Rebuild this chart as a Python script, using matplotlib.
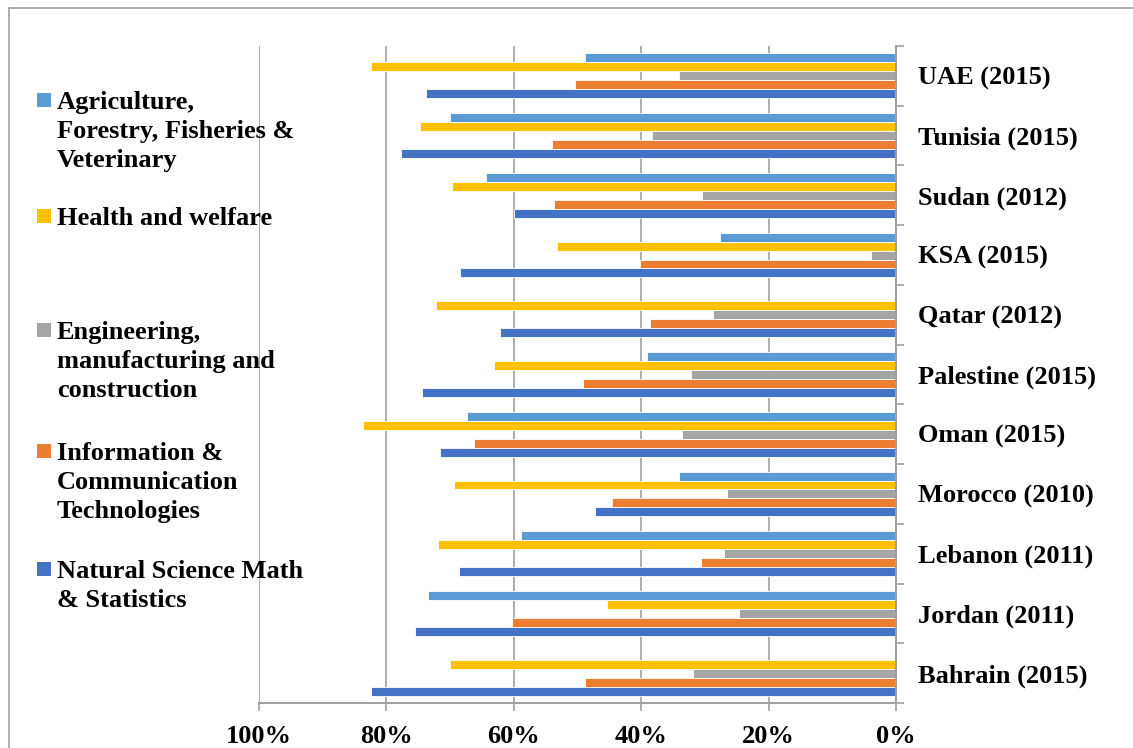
import matplotlib
matplotlib.use('Agg')
from matplotlib import pyplot as plt
from matplotlib.patches import Rectangle
from matplotlib.lines import Line2D
import numpy as np

# categories, bottom to top
countries = ['Bahrain (2015)', 'Jordan (2011)', 'Lebanon (2011)', 'Morocco (2010)',
             'Oman (2015)', 'Palestine (2015)', 'Qatar (2012)', 'KSA (2015)',
             'Sudan (2012)', 'Tunisia (2015)', 'UAE (2015)']

# percent values per field, same order as countries
natural_science = [82.4, 75.5, 68.6, 47.3, 71.6, 74.4, 62.2, 68.4, 60.0, 77.7, 73.8]
ict = [48.8, 60.3, 30.6, 44.6, 66.2, 49.1, 38.6, 40.2, 53.7, 54.0, 50.4]
engineering = [31.9, 24.6, 27.0, 26.5, 33.6, 32.2, 28.7, 3.9, 30.5, 38.3, 34.1]
health = [70.0, 45.4, 71.9, 69.4, 83.7, 63.1, 72.2, 53.2, 69.7, 74.7, 82.4]
agriculture = [0, 73.5, 58.9, 34.1, 67.3, 39.1, 0, 27.6, 64.4, 70.0, 48.8]

x_ticks = [100, 80, 60, 40, 20, 0]

# drawn bottom -> top inside each group
series = [natural_science, ict, engineering, health, agriculture]
colors = ['#4472C4', '#ED7D31', '#A5A5A5', '#FFC000', '#5B9BD5']

legend_names = ['Agriculture,\nForestry, Fisheries &\nVeterinary',
                'Health and welfare',
                'Engineering,\nmanufacturing and\nconstruction',
                'Information &\nCommunication\nTechnologies',
                'Natural Science Math\n& Statistics']
legend_colors = ['#5B9BD5', '#FFC000', '#A5A5A5', '#ED7D31', '#4472C4']

W, H = 1133, 748
plt.rcParams['font.family'] = ['Liberation Serif', 'DejaVu Serif']
plt.rcParams['font.weight'] = 'bold'

fig = plt.figure(figsize=(W / 100, H / 100), dpi=100)
ax = fig.add_axes([259 / W, 1 - 703 / H, (896 - 259) / W, (703 - 46) / H])

y = np.arange(len(countries))
h = 0.15
for i, vals in enumerate(series):
    ax.barh(y + (i - 2) * h, vals, height=h, color=colors[i],
            edgecolor='white', linewidth=0.6, zorder=3)

ax.set_xlim(100, 0)
ax.set_ylim(-0.5, len(countries) - 0.5)
ax.set_xticks(x_ticks)
ax.set_xticklabels([f'{t}%' for t in x_ticks], fontsize=19, fontweight='bold')
ax.xaxis.grid(True, color='#A0A0A0', linewidth=1.2, zorder=0)

ax.yaxis.tick_right()
ax.set_yticks(y)
ax.set_yticklabels(countries, fontsize=19, fontweight='bold')
ax.set_yticks(np.arange(len(countries) + 1) - 0.5, minor=True)
ax.tick_params(axis='y', which='major', length=0, pad=16)
ax.tick_params(axis='y', which='minor', length=6, color='#A0A0A0', width=1.2)
ax.tick_params(axis='x', length=6, color='#A0A0A0', width=1.2, pad=10)

for s in ['left', 'top']:
    ax.spines[s].set_visible(False)
for s in ['right', 'bottom']:
    ax.spines[s].set_color('#A0A0A0')
    ax.spines[s].set_linewidth(1.4)
    ax.spines[s].set_zorder(4)

# legend placed by hand like the Excel one
first_line_y = [100, 216, 330, 451, 569]
for name, c, yy in zip(legend_names, legend_colors, first_line_y):
    fig.patches.append(Rectangle((37 / W, 1 - (yy + 7) / H), 14 / W, 14 / H,
                                 transform=fig.transFigure, facecolor=c,
                                 edgecolor='none'))
    fig.text(57 / W, 1 - (yy - 9) / H, name, fontsize=19, fontweight='bold',
             va='top', ha='left', linespacing=1.32)

# outer chart frame (top and left only visible)
fig.add_artist(Line2D([9 / W, 1], [1 - 7.5 / H, 1 - 7.5 / H], color='#A0A0A0',
                      linewidth=1.2, transform=fig.transFigure))
fig.add_artist(Line2D([9 / W, 9 / W], [0, 1 - 7.5 / H], color='#A0A0A0',
                      linewidth=1.2, transform=fig.transFigure))

fig.savefig('out.png', dpi=100)
